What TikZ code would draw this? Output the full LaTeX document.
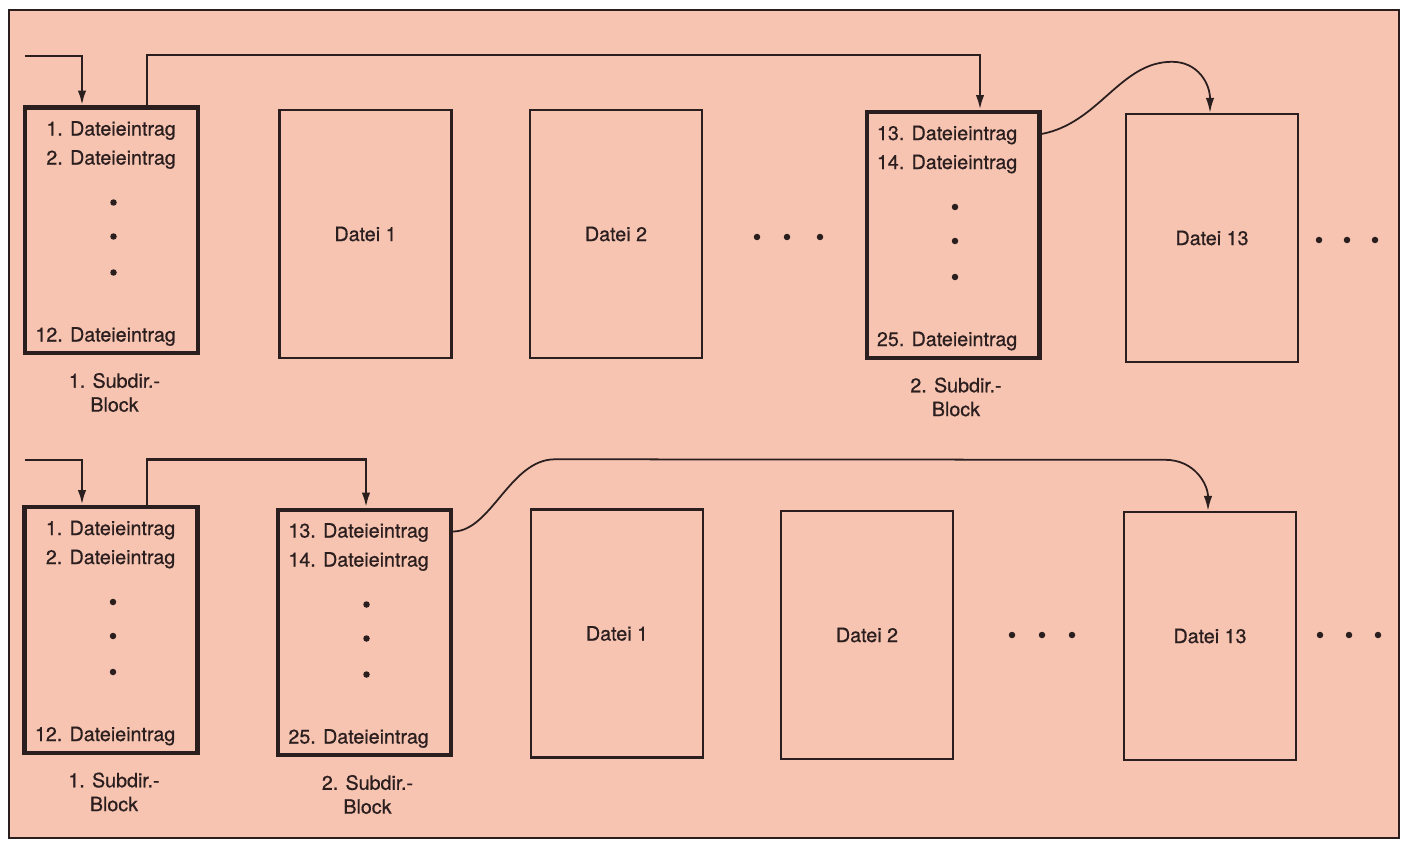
\documentclass[tikz,border=0pt]{standalone}
\usepackage{fontspec}
\setmainfont{TeX Gyre Heros}
\newfontfamily\heavy{TeX Gyre Heros}[FakeBold=0.6]
\usepackage{tikz}
\usetikzlibrary{calc, positioning, arrows.meta}
\definecolor{paper}{RGB}{247,196,178}
\definecolor{ink}{RGB}{42,30,30}

\begin{document}
\begin{tikzpicture}[x=0.02cm, y=-0.02cm, >={Latex[length=3mm,width=1.7mm]},
    every node/.style={font=\heavy\fontsize{11.2}{13.6}\selectfont, text=ink},
    sub/.style={draw=ink, line width=2.3pt, fill=paper, minimum width=3.46cm, minimum height=4.92cm},
    datei/.style={draw=ink, line width=1.4pt, fill=paper, minimum width=3.44cm, minimum height=4.96cm},
    link/.style={draw=ink, line width=1.5pt},
    bow/.style={draw=ink, line width=1pt}]
\useasboundingbox (0,0) rectangle (1406,847);
\draw[ink, line width=0.9pt, fill=paper] (9,10) rectangle (1399,838);

\node[sub] (S1) at (111.5,230.5) {};
\node[datei] (F1) at (365.5,234) {Datei 1};
\node[datei] (F2) at (616,234) {Datei 2};
\node[sub] (S2) at (953,235) {};
\node[datei] (F13) at (1212,238) {Datei 13};

\node[sub] (S1b) at (111,630) {};
\node[sub] (S2b) at (364.5,632.5) {};
\node[datei] (F1b) at (617,633.5) {Datei 1};
\node[datei] (F2b) at (867,635) {Datei 2};
\node[datei] (F13b) at (1210,636) {Datei 13};

\foreach \s/\a/\b/\c/\n in {S1/1/2/12/1, S2/13/14/25/2, S1b/1/2/12/1, S2b/13/14/25/2}
{
    \node[anchor=east] (\s-a) at ($(\s.north east)+(-18,25)$) {\a. Dateieintrag};
    \node[anchor=east] (\s-b) at ($(\s.north east)+(-18,54)$) {\b. Dateieintrag};
    \node[anchor=east] (\s-c) at ($(\s.south east)+(-18,-19)$) {\c. Dateieintrag};
    \foreach \d in {97,131,167}
        \fill[ink] ($(\s.north)+(2,\d)$) circle (0.065cm);
    \node[align=center] (\s-lab) at ($(\s.south)+(3,37)$) {\n. Subdir.-\\Block};
}

\foreach \x/\y in {757/237, 787/237, 820/237, 1319/240, 1347/240, 1375/240,
                   1012/635, 1042/635, 1072/635, 1320/635, 1349/635, 1378/635}
{
    \fill[ink] (\x,\y) circle (0.065cm);
}

\coordinate (in1) at (25,56);
\draw[link,->] (in1) -| ($(S1.north)+(-29.5,0)$);
\draw[link,->] ($(S1.north)+(35.5,0)$) |- ($(S2.north)+(27,-55)$) -- ($(S2.north)+(27,0)$);

\coordinate (P1) at ($(F13.north)+(-40,-51)$);
\draw[bow,->] ($(S2.north east)+(0,24)$) .. controls +(58,-11) and +(-52,0) .. (P1)
    .. controls +(26,0) and +(0,-29) .. ($(F13.north)+(-2,0)$);

\coordinate (in2) at (25,460);
\draw[link,->] (in2) -| ($(S1b.north)+(-29,0)$);
\draw[link,->] ($(S1b.north)+(36,0)$) |- ($(S2b.north)+(1.5,-48)$) -- ($(S2b.north)+(1.5,0)$);

\coordinate (P2) at ($(F1b.north)+(-62,-49)$);
\coordinate (P3) at ($(F13b.north)+(-45,-51)$);
\draw[bow,->] ($(S2b.north east)+(0,24)$) .. controls +(38,0) and +(-45,0) .. (P2) -- (P3)
    .. controls +(30,0) and +(0,-26) .. ($(F13b.north)+(-2,0)$);
\end{tikzpicture}
\end{document}
